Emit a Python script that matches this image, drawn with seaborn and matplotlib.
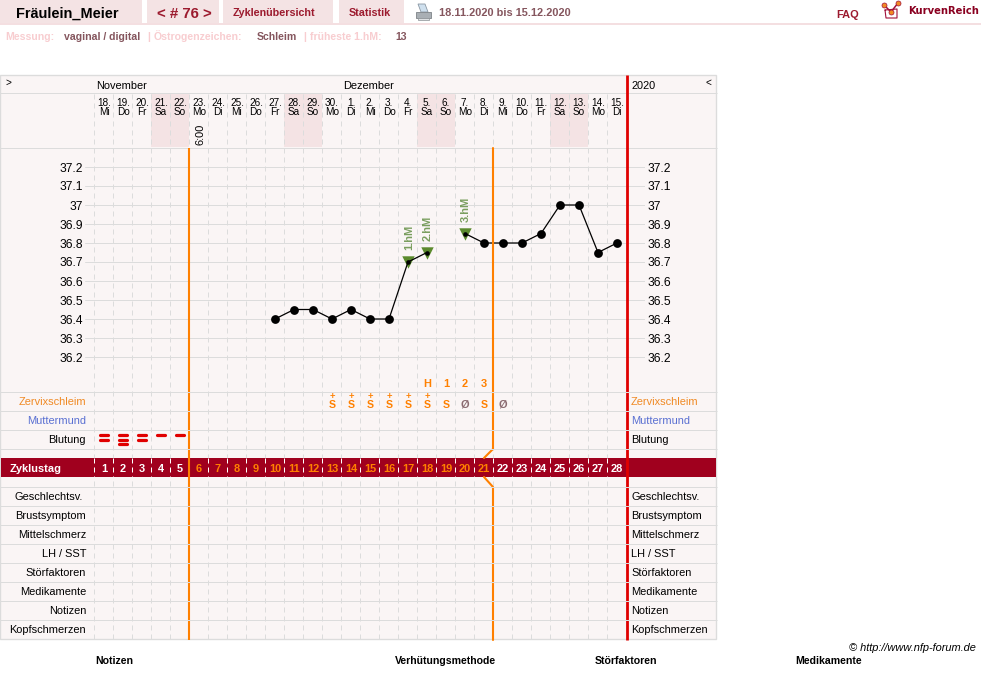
import matplotlib
matplotlib.use('Agg')
import matplotlib.pyplot as plt
from matplotlib.patches import Rectangle, Polygon
import pandas as pd
import seaborn as sns

# Data
cycle_days = list(range(1, 29))
date_labels = ['18.', '19.', '20.', '21.', '22.', '23.', '24.', '25.', '26.', '27.', '28.', '29.', '30.', '1.',
               '2.', '3.', '4.', '5.', '6.', '7.', '8.', '9.', '10.', '11.', '12.', '13.', '14.', '15.']
weekday_labels = ['Mi', 'Do', 'Fr', 'Sa', 'So', 'Mo', 'Di', 'Mi', 'Do', 'Fr', 'Sa', 'So', 'Mo', 'Di',
                  'Mi', 'Do', 'Fr', 'Sa', 'So', 'Mo', 'Di', 'Mi', 'Do', 'Fr', 'Sa', 'So', 'Mo', 'Di']
temp_days = [10, 11, 12, 13, 14, 15, 16, 17, 18, 20, 21, 22, 23, 24, 25, 26, 27, 28]
temp_values = [36.4, 36.45, 36.45, 36.4, 36.45, 36.4, 36.4, 36.7, 36.75,
               36.85, 36.8, 36.8, 36.8, 36.85, 37.0, 37.0, 36.75, 36.8]
temp_segments = [1] * 9 + [2] * 9
temp_ticks = [36.2, 36.3, 36.4, 36.5, 36.6, 36.7, 36.8, 36.9, 37.0, 37.1, 37.2]
temp_tick_labels = ['36.2', '36.3', '36.4', '36.5', '36.6', '36.7', '36.8', '36.9', '37', '37.1', '37.2']
hm_days = [17, 18, 20]
hm_labels = ['1.hM', '2.hM', '3.hM']
bleeding = [2, 3, 2, 1, 1]
mucus_days = [13, 14, 15, 16, 17, 18, 19, 20, 21, 22]
mucus_marks = ['S+', 'S+', 'S+', 'S+', 'S+', 'S+', 'S', 'Ø', 'S', 'Ø']
peak_days = [18, 19, 20, 21]
peak_labels = ['H', '1', '2', '3']
upper_rows = ['Zervixschleim', 'Muttermund', 'Blutung']
upper_colors = ['#f08a24', '#5a70d2', 'black']
lower_rows = ['Geschlechtsv.', 'Brustsymptom', 'Mittelschmerz', 'LH / SST', 'Störfaktoren', 'Medikamente', 'Notizen',
              'Kopfschmerzen']
footer_labels = ['Notizen', 'Verhütungsmethode', 'Störfaktoren', 'Medikamente']

df = pd.DataFrame({'day': temp_days, 'temp': temp_values, 'segment': temp_segments})
df_hm = df[df.day.isin(hm_days)]
df_plain = df[~df.day.isin(hm_days)]

PANEL = '#faf5f5'
GRID = '#dcdcdc'
PINK = '#f4e3e4'
CRIMSON = '#a0001e'
WINE = '#9c1a2e'
MAUVE = '#85565e'
PALE = '#f8cdd0'
ORANGE = '#ff8000'
RED = '#e00000'

sns.set_theme(style='white')
plt.rcParams['font.family'] = ['Liberation Sans', 'DejaVu Sans']


def pt(px):
    # text sizes are measured in pixels on the picture
    return px * 0.72


def day_x(day):
    return 104 + (day - 1) * 19


fig = plt.figure(figsize=(9.81, 6.99), dpi=100, facecolor='white')

# Base layer, one unit is one pixel
ax = fig.add_axes([0, 0, 1, 1], zorder=1)
ax.set_xlim(0, 981)
ax.set_ylim(699, 0)
ax.axis('off')

# Page head
for x0, x1 in [(0, 142), (147, 219), (223, 333), (339, 404)]:
    ax.add_patch(Rectangle((x0, 0), x1 - x0, 23, color=PINK, lw=0))
ax.add_patch(Rectangle((0, 23), 981, 2, color='#f4dfe1', lw=0))

ax.text(16, 18, 'Fräulein_Meier', fontsize=pt(14.5), fontweight='bold', color='black')
ax.text(184, 18, '< # 76 >', fontsize=pt(15), fontweight='bold', color=WINE, ha='center')
ax.text(233, 16.5, 'Zyklenübersicht', fontsize=pt(10.7), fontweight='bold', color=WINE)
ax.text(349, 16.5, 'Statistik', fontsize=pt(10.7), fontweight='bold', color=WINE)
ax.text(439, 16.5, '18.11.2020 bis 15.12.2020', fontsize=pt(11), fontweight='bold', color=MAUVE)
ax.text(836, 18.5, 'FAQ', fontsize=pt(11), fontweight='bold', color=WINE)
ax.text(908, 14, 'KurvenReich', fontsize=pt(10), fontweight='bold', color='#8a0020', family=['DejaVu Sans'])

# Printer icon
ax.add_patch(Polygon([(418, 4), (425, 4), (428, 12), (421, 12)], fc='#cfe0ee', ec='#8b98a3', lw=0.6))
ax.add_patch(Polygon([(416, 12), (431, 12), (431, 18), (416, 18)], fc='#a9afb4', ec='#7d8387', lw=0.6))
ax.add_patch(Polygon([(418, 18), (429, 18), (429, 20), (418, 20)], fc='#dfe2e4', ec='#8b9094', lw=0.5))

# Logo
ax.plot([885, 886, 897, 897, 885], [10, 18, 18, 9, 10], color='#a0103a', lw=0.8)
ax.plot([884, 891, 898], [5, 12, 3], color='#a0103a', lw=1.1)
ax.plot([884, 891, 898], [5, 12, 3], ls='none', marker='o', ms=3.6, mfc='#f08a24', mec='#a0103a', mew=0.5)

for x, label, color in [(5, 'Messung:', PALE), (64, 'vaginal / digital', MAUVE), (147, '|', PALE),
                        (154, 'Östrogenzeichen:', PALE), (257, 'Schleim', MAUVE), (303, '|', PALE),
                        (310, 'früheste 1.hM:', PALE), (395, '13', MAUVE)]:
    ax.text(x, 40, label, fontsize=pt(10.5), fontweight='bold', color=color)

# Table
ax.add_patch(Rectangle((0, 75), 716, 564, fc=PANEL, ec=GRID, lw=1))
for i in [3, 4, 10, 11, 17, 18, 24, 25]:
    ax.add_patch(Rectangle((94 + i * 19, 93), 19, 54, color=PINK, lw=0))
ax.hlines([93, 148], 0, 717, color=GRID, lw=0.72)

ax.vlines([94 + i * 19 for i in range(28)], 94, 640, color=GRID, lw=0.72, linestyles=[(0, (5, 4))])

ax.text(5, 83, '>', fontsize=pt(10), color='black', va='center')
ax.text(96, 89, 'November', fontsize=pt(11), color='black')
ax.text(343, 89, 'Dezember', fontsize=pt(11), color='black')
ax.text(631, 89, '2020', fontsize=pt(11), color='black')
ax.text(706, 83, '<', fontsize=pt(10), color='black', va='center')

for day, date, weekday in zip(cycle_days, date_labels, weekday_labels):
    ax.text(day_x(day), 106, date, fontsize=pt(10), color='black', ha='center')
    ax.text(day_x(day), 115, weekday, fontsize=pt(10), color='black', ha='center')
ax.text(200, 134, '6:00', fontsize=pt(11), color='black', va='center', ha='center', rotation=90)

# Rows under the curve
row_lines = [392, 411, 430, 449, 487, 506, 525, 544, 563, 582, 601, 620]

for i, (label, color) in enumerate(zip(upper_rows, upper_colors)):
    y = 405 + i * 19
    ax.text(86, y, label, fontsize=pt(11), color=color, ha='right')
    ax.text(631, y, label, fontsize=pt(11), color=color)
for i, label in enumerate(lower_rows):
    y = 500 + i * 19
    ax.text(83 if i == 0 else 86, y, label, fontsize=pt(11), color='black', ha='right')
    ax.text(631, y, label, fontsize=pt(11), color='black')

for day, label in zip(peak_days, peak_labels):
    ax.text(day_x(day), 387, label, fontsize=pt(11), fontweight='bold', color=ORANGE, ha='center')
for day, mark in zip(mucus_days, mucus_marks):
    if mark == 'Ø':
        ax.text(day_x(day), 408, mark, fontsize=pt(11), fontweight='bold', color='#8a6a70', ha='center')
    else:
        ax.text(day_x(day), 408.5, 'S', fontsize=pt(10.5), fontweight='bold', color=ORANGE, ha='center')
    if mark == 'S+':
        ax.text(day_x(day), 399.5, '+', fontsize=pt(9.5), fontweight='bold', color=ORANGE, ha='center')

# Bleeding strokes
for day, count in zip(cycle_days, bleeding):
    for j in range(count):
        ax.hlines(435 + j * 4.5, day_x(day) - 4, day_x(day) + 4, color=RED, lw=2.3, capstyle='round')

# Cycle day bar
ax.add_patch(Rectangle((1, 458), 715, 19, color=CRIMSON, lw=0, zorder=3))
ax.vlines([94 + i * 19 for i in range(28)], 458, 477, color='white', lw=0.72, linestyles=[(0, (5, 4))], zorder=4)
ax.text(10, 472, 'Zyklustag', fontsize=pt(11), fontweight='bold', color='white', zorder=5)
for day in cycle_days:
    color = ORANGE if 6 <= day <= 21 else 'white'
    ax.text(day_x(day), 472, str(day), fontsize=pt(11), fontweight='bold', color=color, ha='center', zorder=5)

# Footer
ax.text(976, 651, '© http://www.nfp-forum.de', fontsize=pt(11), style='italic', color='black', ha='right')
for x, label in zip([95, 395, 595, 795], footer_labels):
    ax.text(x, 664, label, fontsize=pt(10.5), fontweight='bold', color='black')

# Temperature curve with its own scales
ax_temp = fig.add_axes([85 / 981, 1 - 392 / 699, 560 / 981, 244 / 699], zorder=2)
ax_temp.patch.set_alpha(0)
sns.lineplot(data=df, x='day', y='temp', units='segment', estimator=None, color='black', lw=0.9, legend=False,
             ax=ax_temp)
sns.scatterplot(data=df_hm, x='day', y='temp', marker='v', s=80, color='#5b8a2d', linewidth=0, legend=False, ax=ax_temp)
sns.scatterplot(data=df_hm, x='day', y='temp', marker='o', s=11, color='black', linewidth=0, legend=False, zorder=3,
                ax=ax_temp)
sns.scatterplot(data=df_plain, x='day', y='temp', marker='o', s=40, color='black', linewidth=0, legend=False, zorder=3,
                ax=ax_temp)
for day, label in zip(hm_days, hm_labels):
    ax_temp.annotate(label, (day, df.temp[df.day == day].iloc[0]), xytext=(0.7, pt(12)), textcoords='offset points',
                     rotation=90, ha='center', va='bottom', fontsize=pt(11), fontweight='bold', color='#7a9e5e')

ax_temp.set_xlim((85 - 104) / 19 + 1, (645 - 104) / 19 + 1)
ax_temp.set_ylim(37.2 - (357 + 35 - 167) / 190, 37.2 + 19 / 190)
ax_temp.set_xticks([])
ax_temp.set_yticks(temp_ticks, temp_tick_labels)
ax_temp.set(xlabel='', ylabel='')
ax_temp.grid(axis='y', color=GRID, lw=0.72)
ax_temp.tick_params(axis='y', length=0, pad=1.5, labelsize=pt(12), labelcolor='black', labelright=True, right=False)
sns.despine(ax=ax_temp, left=True, bottom=True)

# Rules and row lines go above the curve
ax_top = fig.add_axes([0, 0, 1, 1], zorder=3)
ax_top.set_xlim(0, 981)
ax_top.set_ylim(699, 0)
ax_top.axis('off')
ax_top.vlines(627, 75, 640, color=RED, lw=2)
ax_top.vlines(189, 148, 640, color=ORANGE, lw=1.5)
ax_top.plot([493, 493, 484], [148, 449, 458], color=ORANGE, lw=1.5)
ax_top.plot([484, 493, 493], [477, 487, 640], color=ORANGE, lw=1.5)
ax_top.hlines(row_lines, 0, 717, color=GRID, lw=0.72)

fig.savefig('out.png', dpi=100)
